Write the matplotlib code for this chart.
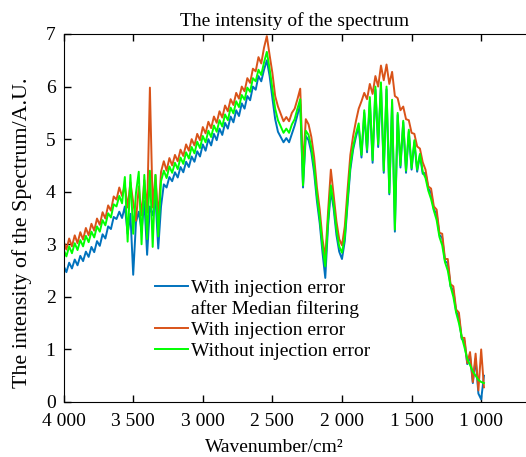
import matplotlib
matplotlib.use("Agg")
import matplotlib.pyplot as plt
from matplotlib.lines import Line2D
from matplotlib.ticker import FuncFormatter

plt.rcParams['font.family'] = ['Liberation Serif', 'DejaVu Serif']
plt.rcParams['font.size'] = 14

# Wavenumber grid (cm^-1), 20 cm^-1 step from 4000 down to 980
wavenumber = list(range(4000, 979, -20))

# With injection error after median filtering (blue)
blue = [
    2.59, 2.47, 2.65, 2.54, 2.71, 2.60, 2.78, 2.68, 2.86, 2.76,
    2.95, 2.85, 3.06, 2.97, 3.19, 3.11, 3.34, 3.29, 3.52, 3.48,
    3.62, 3.50, 3.72, 3.20, 3.58, 2.42, 3.42, 3.62, 3.25, 3.82,
    2.80, 3.72, 3.55, 3.88, 2.92, 3.72, 4.14, 4.08, 4.28, 4.20,
    4.37, 4.27, 4.47, 4.37, 4.57, 4.47, 4.67, 4.57, 4.77, 4.67,
    4.90, 4.78, 5.00, 4.88, 5.10, 4.98, 5.20, 5.08, 5.31, 5.20,
    5.43, 5.32, 5.55, 5.44, 5.68, 5.58, 5.82, 5.74, 6.00, 5.94,
    6.20, 6.10, 6.32, 6.50, 6.20, 5.78, 5.38, 5.14, 5.04, 4.94,
    5.02, 4.94, 5.10, 5.26, 5.46, 5.66, 4.08, 5.06, 4.98, 4.74,
    4.36, 3.82, 3.40, 2.84, 2.36, 3.36, 4.02, 3.68, 3.18, 2.86,
    2.72, 3.06, 3.76, 4.42, 4.80, 5.04, 5.24, 4.65, 5.50, 4.75,
    5.72, 4.55, 5.94, 4.85, 6.02, 4.36, 5.95, 3.95, 5.70, 3.24,
    5.46, 4.46, 5.32, 4.36, 5.14, 4.42, 4.94, 4.38, 4.70, 4.34,
    4.36, 4.06, 3.98, 3.66, 3.58, 3.18, 3.12, 2.68, 2.64, 2.20,
    2.12, 1.72, 1.62, 1.20, 1.16, 0.72, 0.88, 0.36, 0.82, 0.16,
    0.05, 0.50,
]

# With injection error (orange)
orange = [
    3.06, 2.90, 3.11, 2.96, 3.17, 3.02, 3.23, 3.09, 3.31, 3.17,
    3.39, 3.26, 3.49, 3.37, 3.61, 3.49, 3.74, 3.64, 3.91, 3.85,
    4.08, 3.92, 4.12, 3.70, 4.18, 3.80, 3.45, 4.10, 3.55, 4.22,
    3.60, 5.98, 3.70, 4.32, 3.50, 4.38, 4.58, 4.40, 4.64, 4.50,
    4.70, 4.58, 4.80, 4.68, 4.90, 4.78, 5.00, 4.88, 5.10, 4.98,
    5.23, 5.11, 5.33, 5.21, 5.43, 5.31, 5.53, 5.41, 5.64, 5.53,
    5.76, 5.65, 5.88, 5.77, 6.00, 5.91, 6.16, 6.07, 6.34, 6.29,
    6.56, 6.44, 6.74, 6.96, 6.60, 6.26, 5.82, 5.62, 5.48, 5.34,
    5.42, 5.34, 5.50, 5.58, 5.76, 5.96, 4.45, 5.38, 5.28, 5.04,
    4.66, 4.08, 3.66, 3.10, 2.75, 3.62, 4.42, 3.94, 3.44, 3.10,
    2.98, 3.34, 4.04, 4.70, 5.06, 5.34, 5.58, 5.72, 5.88, 5.76,
    6.05, 5.86, 6.20, 6.00, 6.40, 6.12, 6.42, 6.05, 6.28, 5.82,
    5.78, 5.55, 5.62, 5.38, 5.36, 5.12, 5.10, 4.86, 4.82, 4.56,
    4.42, 4.10, 4.06, 3.72, 3.66, 3.22, 3.20, 2.72, 2.72, 2.24,
    2.20, 1.76, 1.70, 1.22, 1.22, 0.74, 0.95, 0.38, 0.92, 0.22,
    1.00, 0.28,
]

# Without injection error (green)
green = [
    2.90, 2.77, 2.96, 2.83, 3.02, 2.89, 3.08, 2.96, 3.16, 3.04,
    3.24, 3.13, 3.34, 3.24, 3.46, 3.36, 3.59, 3.51, 3.76, 3.72,
    3.92, 3.78, 4.28, 3.05, 4.32, 3.20, 3.98, 4.38, 3.00, 4.32,
    3.10, 4.40, 2.95, 4.32, 3.15, 4.20, 4.40, 4.26, 4.48, 4.36,
    4.55, 4.43, 4.65, 4.53, 4.75, 4.63, 4.85, 4.73, 4.95, 4.83,
    5.06, 4.94, 5.16, 5.04, 5.26, 5.14, 5.36, 5.24, 5.47, 5.36,
    5.60, 5.49, 5.72, 5.61, 5.84, 5.75, 5.98, 5.90, 6.16, 6.10,
    6.32, 6.22, 6.46, 6.66, 6.34, 5.96, 5.58, 5.36, 5.24, 5.12,
    5.20, 5.12, 5.28, 5.38, 5.58, 5.76, 4.12, 5.16, 5.08, 4.84,
    4.46, 3.92, 3.50, 2.96, 2.58, 3.46, 4.12, 3.76, 3.28, 2.96,
    2.84, 3.14, 3.84, 4.50, 4.86, 5.10, 5.30, 4.70, 5.55, 4.80,
    5.80, 4.60, 6.00, 4.90, 6.08, 4.40, 6.00, 3.98, 5.75, 3.28,
    5.50, 4.50, 5.35, 4.40, 5.18, 4.45, 4.98, 4.42, 4.72, 4.38,
    4.26, 4.02, 3.86, 3.64, 3.46, 3.14, 2.98, 2.66, 2.50, 2.20,
    2.00, 1.70, 1.50, 1.24, 1.04, 0.82, 0.70, 0.58, 0.50, 0.42,
    0.38, 0.36,
]

colors = ['#0072BD', '#D95319', '#00FF00']

fig = plt.figure(figsize=(5.26, 4.57), dpi=100)
ax = fig.add_axes([63.6 / 526, 55 / 457, 1 - 63.6 / 526, 368 / 457])

l_blue, = ax.plot(wavenumber, blue, color=colors[0], lw=1.4)
l_orange, = ax.plot(wavenumber, orange, color=colors[1], lw=1.4)
l_green, = ax.plot(wavenumber, green, color=colors[2], lw=1.4)

ax.set_xlim(4000, 678)
ax.set_ylim(0, 7)
ax.set_xticks([4000, 3500, 3000, 2500, 2000, 1500, 1000])
ax.set_yticks(range(0, 8))
ax.xaxis.set_major_formatter(FuncFormatter(lambda v, p: f"{int(v):,}".replace(",", " ")))
ax.tick_params(direction='in', length=5, width=1, top=True, right=False)
ax.tick_params(axis='x', pad=8)
ax.tick_params(axis='y', pad=5.8)
ax.spines['right'].set_visible(False)

ax.set_title('The intensity of the spectrum', fontsize=14, pad=6)
ax.set_xlabel('Wavenumber/cm\u00b2', fontsize=14)
ax.xaxis.set_label_coords(0.455, -0.1)
ax.set_ylabel('The intensity of the Spectrum/A.U.', fontsize=15.8)
ax.yaxis.set_label_coords(-0.068, 0.459)

# second line of the blue label carries no handle
blank = Line2D([], [], color='none')
ax.legend([l_blue, blank, l_orange, l_green],
          ['With injection error', 'after Median filtering',
           'With injection error', 'Without injection error'],
          loc='upper left', bbox_to_anchor=(0.198, 0.333), frameon=False,
          fontsize=14, handlelength=1.7, handletextpad=0.15, labelspacing=0.17,
          borderpad=0, borderaxespad=0)

fig.savefig('out.png', dpi=100)
